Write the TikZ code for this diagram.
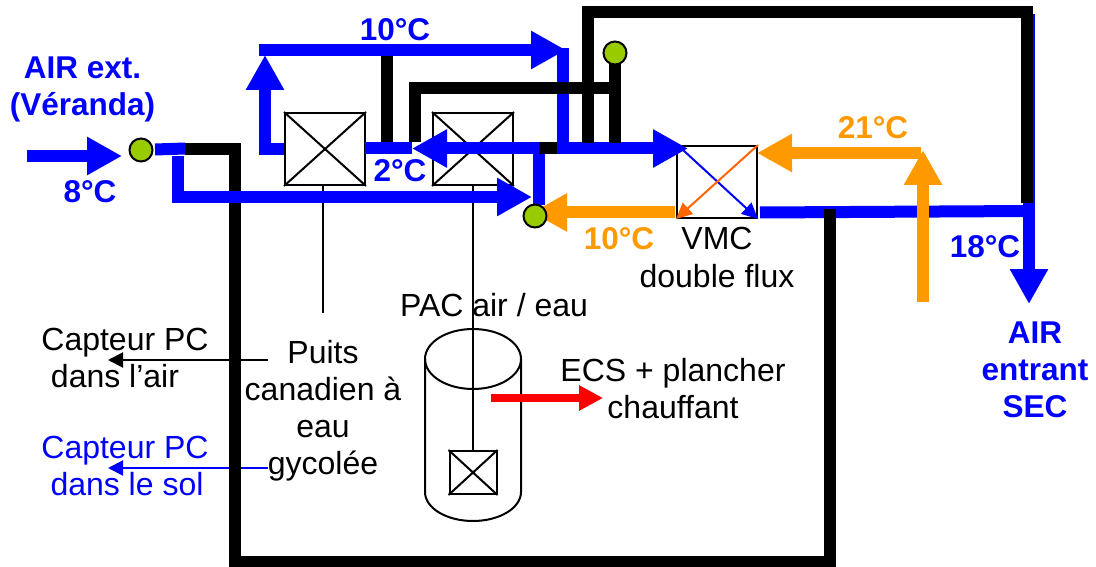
\documentclass[tikz,border=0pt]{standalone}
\usepackage{fontspec}
\setmainfont{Liberation Sans}
\usetikzlibrary{arrows.meta}
\definecolor{cblue}{HTML}{0000FF}
\definecolor{corange}{HTML}{FF9900}
\definecolor{cdiag}{HTML}{FF6600}
\definecolor{cgreen}{HTML}{99CC00}
\tikzset{
  x=1pt,y=-1pt,
  txt/.style={inner sep=0pt,outer sep=0pt,anchor=base,align=center,font=\fontsize{32}{37}\selectfont},
  btxt/.style={txt,font=\fontsize{31.5}{37}\selectfont\bfseries},
  pipe/.style={line width=12pt,line join=miter,line cap=butt},
  flow/.style={pipe,-{Triangle[length=35pt,width=36pt]}},
  hx/.style={draw=black,line width=2pt,fill=white,inner sep=0pt,minimum width=80pt,minimum height=72pt},
  hxs/.style={draw=black,line width=2pt,fill=white,inner sep=0pt,minimum width=47pt,minimum height=43pt},
  thin line/.style={line width=2pt},
  probe/.style={-{Triangle[length=15pt,width=15pt]},line width=2pt},
  valve/.style={circle,draw=black,line width=2pt,fill=cgreen,minimum size=23pt,inner sep=0pt},
  diag/.style={line width=2pt,-{Triangle[length=16pt,width=15pt]}},
}
\begin{document}
\begin{tikzpicture}
\useasboundingbox (0,0) rectangle (1096,567);
\coordinate (inS) at (27,156);
\coordinate (inE) at (122,156);
\coordinate (probeA) at (108,360);
\coordinate (probeAs) at (268,360);
\coordinate (probeB) at (108,468);
\coordinate (probeBs) at (268,468);
\coordinate (pt) at (323,313);
\node[hx] (hxA) at (325,149) {};
\node[hx] (hxB) at (473,149) {};
\node[hxs] (hxC) at (473,472.5) {};
\node[hx] (vmc) at (717,182) {};
% thin lines
\draw[thin line] (323,185) -- (pt);
\draw[probe] (probeAs) -- (probeA);
\draw[probe,cblue] (probeBs) -- (probeB);
% tank
\draw[thin line] (425,359) -- (425,492) arc[start angle=180,end angle=360,x radius=48,y radius=-29] -- (521,359);
\draw[thin line] (473,359) ellipse[x radius=48,y radius=30];
\draw[thin line] (hxB.south) -- (hxC.north);
\draw[thin line] (hxC.north west) -- (hxC.south east) (hxC.north east) -- (hxC.south west);
% left black frame
\draw[pipe,black] (185,149) -- (235,149) -- (235,562) -- (830,562) -- (830,209);
% blue lines
\draw[flow,cblue] (inS) -- (inE);
\draw[pipe,cblue] (155,149.5) -- (185,148.5);
\draw[flow,cblue] (177.5,156) -- (177.5,197) -- (532,197);
\draw[flow,cblue] (284,149) -- (265,149) -- (265,55);
\draw[flow,cblue] (259,50) -- (566,50);
\draw[flow,cblue] (563,48) -- (563,148.5) -- (688,148.5);
\draw[pipe,cblue] (539,143) -- (539,205);
\draw[pipe,cblue] (1029,14) -- (1029,205);
\draw[pipe,cblue] (760,212.5) -- (1029,211);
\draw[flow,cblue] (1029,205) -- (1029,304);
% exchanger crosses
\draw[thin line] (hxA.north west) -- (hxA.south east) (hxA.north east) -- (hxA.south west);
\draw[thin line] (hxB.north west) -- (hxB.south east) (hxB.north east) -- (hxB.south west);
\draw[flow,cblue] (539,148.5) -- (412,148.5);
\draw[pipe,cblue] (412,148.5) -- (365,148.5);
% other black lines
\draw[pipe,black] (387,56) -- (387,142);
\draw[pipe,black] (415,142) -- (415,88) -- (621,88);
\draw[pipe,black] (588,143) -- (588,12) -- (1027,12) -- (1027,203);
\draw[pipe,black] (615,143) -- (615,60);
\draw[pipe,black] (539,148) -- (557,148);
\draw[pipe,black] (830,209) -- (830,240);
% orange
\draw[flow,corange] (675,212.5) -- (532,212.5);
\draw[flow,corange] (921,153) -- (757,153);
\draw[flow,corange] (923,302) -- (923,150);
% vmc arrows
\draw[diag,cblue] (683,150) -- (vmc.south east);
\draw[diag,cdiag] (vmc.north east) -- (vmc.south west);
% red arrow
\draw[line width=8pt,red,-{Triangle[length=24pt,width=24pt]}] (491,398) -- (603,398);
% valves
\node[valve] (v1) at (141,150) {};
\node[valve] (v2) at (535,216) {};
\node[valve] (v3) at (615,53) {};
% labels
\node[btxt,text=cblue] (t1) at (82.5,116) {AIR ext.\\(Véranda)};
\node[btxt,text=cblue] (t2) at (90,203) {8°C};
\node[btxt,text=cblue] (t3) at (395,41) {10°C};
\node[btxt,text=cblue] (t4) at (400,182) {2°C};
\node[btxt,text=corange] (t5) at (619,250) {10°C};
\node[btxt,text=corange] (t6) at (873,139) {21°C};
\node[btxt,text=cblue] (t7) at (985,257) {18°C};
\node[btxt,text=cblue] (t8) at (1035,417) {AIR\\entrant\\SEC};
\node[txt] (t9) at (717,287) {VMC\\double flux};
\node[txt] (t10) at (494,316) {PAC air / eau};
\node[txt] (t11) at (673,418) {ECS + plancher\\chauffant};
\node[txt] (t12) at (323,474) {Puits\\canadien à\\eau\\gycolée};
\node[txt] (t13) at (125,387) {Capteur PC\\dans l’air\hspace*{20pt}};
\node[txt,text=cblue] (t14) at (125,495) {Capteur PC\\\hspace*{4pt}dans le sol};
\end{tikzpicture}
\end{document}
